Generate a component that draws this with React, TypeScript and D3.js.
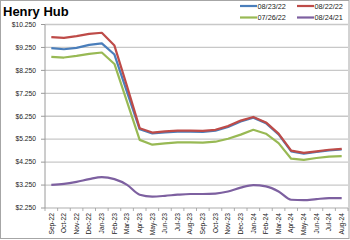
import React from "react";
import * as d3 from "d3";

const categories = ["Sep-22","Oct-22","Nov-22","Dec-22","Jan-23","Feb-23","Mar-23","Apr-23","May-23","Jun-23","Jul-23","Aug-23","Sep-23","Oct-23","Nov-23","Dec-23","Jan-24","Feb-24","Mar-24","Apr-24","May-24","Jun-24","Jul-24","Aug-24"];

const s082322 = [9.22,9.17,9.23,9.36,9.43,8.94,7.30,5.68,5.50,5.55,5.58,5.58,5.57,5.62,5.78,6.02,6.19,5.95,5.46,4.72,4.62,4.69,4.76,4.80];
const s082222 = [9.70,9.67,9.74,9.84,9.89,9.33,7.55,5.73,5.54,5.59,5.62,5.62,5.61,5.66,5.82,6.06,6.22,5.98,5.49,4.75,4.65,4.72,4.79,4.83];
const s072622 = [8.84,8.81,8.88,8.97,9.03,8.53,6.88,5.22,5.01,5.07,5.11,5.11,5.10,5.14,5.27,5.45,5.66,5.49,5.08,4.40,4.35,4.43,4.49,4.51];
const s082421 = [3.26,3.30,3.39,3.51,3.60,3.51,3.26,2.83,2.75,2.78,2.83,2.86,2.86,2.88,2.97,3.14,3.25,3.19,2.97,2.61,2.59,2.64,2.68,2.68];

const yTicks = [2.25,3.25,4.25,5.25,6.25,7.25,8.25,9.25,10.25];

const seriesNames = ["08/23/22","08/22/22","07/26/22","08/24/21"];
const seriesColors = ["#4A7EBB","#BE4B48","#98B954","#7D60A0"];
const seriesData = [s082322, s082222, s072622, s082421];

export default function App() {
  const W = 350, H = 240;
  const left = 45, right = 348, top = 24.5, bottom = 208;
  const x = d3.scaleBand<string>().domain(categories).range([left, right]);
  const y = d3.scaleLinear().domain([2.25, 10.25]).range([bottom, top]);
  const cx = (c: string) => (x(c) as number) + x.bandwidth() / 2;
  const font = "'Liberation Sans', Arial, sans-serif";

  const lineLinear = d3.line<number>().x((_, i) => cx(categories[i])).y(v => y(v));
  const lineSmooth = d3.line<number>().x((_, i) => cx(categories[i])).y(v => y(v)).curve(d3.curveMonotoneX);

  const legendPos = [
    { lx: 240, ly: 6 },
    { lx: 297, ly: 6 },
    { lx: 240, ly: 17.5 },
    { lx: 297, ly: 17.5 },
  ];

  return (
    <svg width={W} height={H} style={{ position: "absolute", left: 0, top: 0, background: "#fff" }} fontFamily={font}>
      <rect x={0.5} y={0.5} width={348.5} height={238} fill="#fff" stroke="#A6A6A6" strokeWidth={1} />
      <text x={3} y={15.5} fontSize={13} fontWeight="bold" fill="#000">Henry Hub</text>

      {yTicks.map(t => (
        <g key={t}>
          <line x1={left} x2={right} y1={y(t)} y2={y(t)} stroke="#C8C8C8" strokeWidth={1.3} />
          <line x1={left - 4} x2={left} y1={y(t)} y2={y(t)} stroke="#9A9A9A" strokeWidth={1} />
          <text x={36} y={y(t) + 2.3} fontSize={6.7} textAnchor="end" fill="#222">{"$" + t.toFixed(3).replace(/^(\d+)\.(\d+)$/, "$1.$2")}</text>
        </g>
      ))}
      <line x1={left} x2={left} y1={top} y2={bottom} stroke="#9A9A9A" strokeWidth={1} />

      {categories.map((c, i) => (
        <g key={c}>
          <line x1={(x(c) as number)} x2={(x(c) as number)} y1={bottom} y2={bottom + 3} stroke="#9A9A9A" strokeWidth={0.8} />
          {i === categories.length - 1 && (
            <line x1={right} x2={right} y1={bottom} y2={bottom + 3} stroke="#9A9A9A" strokeWidth={0.8} />
          )}
          <text transform={`translate(${cx(c) + 2.3},${bottom + 5}) rotate(-90)`} fontSize={6.7} textAnchor="end" fill="#222">{c}</text>
        </g>
      ))}

      {seriesData.map((d, k) => (
        <path key={k} d={(k === 3 ? lineSmooth(d) : lineLinear(d)) || ""} fill="none" stroke={seriesColors[k]} strokeWidth={2.2} strokeLinejoin="round" />
      ))}

      {seriesNames.map((n, k) => (
        <g key={n}>
          <line x1={legendPos[k].lx} x2={legendPos[k].lx + 17} y1={legendPos[k].ly} y2={legendPos[k].ly} stroke={seriesColors[k]} strokeWidth={2.2} />
          <text x={legendPos[k].lx + 17.5} y={legendPos[k].ly + 2.6} fontSize={7.3} fill="#222">{n}</text>
        </g>
      ))}
    </svg>
  );
}
